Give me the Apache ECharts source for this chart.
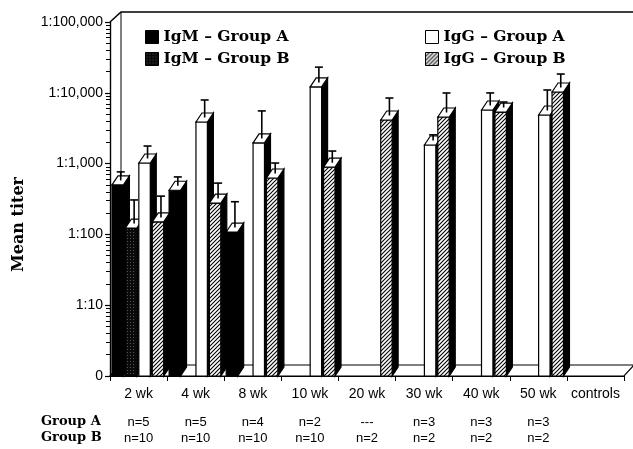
<!DOCTYPE html>
<html>
<head>
<meta charset="utf-8">
<script src="https://cdn.jsdelivr.net/npm/echarts@6/dist/echarts.min.js"></script>
<style>
  html, body { margin: 0; padding: 0; background: #fff; }
  #chart { width: 633px; height: 449px; }
</style>
</head>
<body>
<div id="chart"></div>
<script>
var categories = ['2 wk', '4 wk', '8 wk', '10 wk', '20 wk', '30 wk', '40 wk', '50 wk', 'controls'];
var igmA    = [500, 420, 108, null, null, null, null, null, null];
var igmAErr = [660, 560, 250, null, null, null, null, null, null];
var igmB    = [123, null, null, null, null, null, null, null, null];
var igmBErr = [265, null, null, null, null, null, null, null, null];
var iggA    = [1020, 3870, 1960, 12100, null, 1830, 5720, 4860, null];
var iggAErr = [1530, 6840, 4790, 19900, null, 2200, 8600, 9460, null];
var iggB    = [150, 277, 626, 890, 4130, 4550, 5350, 10260, null];
var iggBErr = [300, 458, 880, 1300, 7290, 8590, 6400, 15900, null];
var nGroupA = ['n=5', 'n=5', 'n=4', 'n=2', '---', 'n=3', 'n=3', 'n=3', ''];
var nGroupB = ['n=10', 'n=10', 'n=10', 'n=10', 'n=2', 'n=2', 'n=2', 'n=2', ''];
var decades = [0, 1, 2, 3, 4];

// minor tick positions (exponents of 2..9 in each decade)
var minorTicks = [];
decades.forEach(function (d) {
    for (var k = 2; k <= 9; k++) minorTicks.push(d + Math.log10(k));
});

var chart = echarts.init(document.getElementById('chart'));

// small tiles for hatched fills
function tile(bg, fg, size, lw, dots) {
    var c = document.createElement('canvas');
    c.width = c.height = size;
    var ctx = c.getContext('2d');
    ctx.fillStyle = bg;
    ctx.fillRect(0, 0, size, size);
    if (dots) {
        ctx.fillStyle = fg;
        ctx.fillRect(1, 1, 1, 1);
    } else {
        ctx.strokeStyle = fg;
        ctx.lineWidth = lw;
        ctx.beginPath();
        ctx.moveTo(0, size); ctx.lineTo(size, 0);
        ctx.moveTo(-1, 1); ctx.lineTo(1, -1);
        ctx.moveTo(size - 1, size + 1); ctx.lineTo(size + 1, size - 1);
        ctx.stroke();
    }
    return { image: c, repeat: 'repeat' };
}
var hatchLight = tile('#fff', '#000', 4, 1.1, false);
var hatchDark = tile('#0a0a0a', '#555', 3, 1, true);

var DX = 6, DY = 9;

function toData(vals, errs) {
    var out = [];
    for (var i = 0; i < vals.length; i++) {
        if (vals[i] != null) out.push([i, vals[i], errs[i]]);
    }
    return out;
}

function barRender(slot, fill) {
    return function (params, api) {
        var idx = api.value(0);
        var base = api.coord([idx, 1]);
        var band = api.coord([1, 1])[0] - api.coord([0, 1])[0];
        var w = band * 0.2;
        var left = base[0] - band / 2 + band * (0.035 + slot * 0.235);
        var right = left + w;
        var yT = api.coord([idx, api.value(1)])[1];
        var yB = base[1];
        var ex = left + w / 2 + DX / 2;
        var ey0 = yT - DY / 2;
        var ey1 = api.coord([idx, api.value(2)])[1] - DY / 2;
        return {
            type: 'group',
            children: [
                { type: 'polygon', shape: { points: [[right, yT], [right + DX, yT - DY], [right + DX, yB - DY], [right, yB]] },
                  style: { fill: '#000', stroke: '#000', lineWidth: 1.2 } },
                { type: 'rect', shape: { x: left, y: yT, width: w, height: yB - yT },
                  style: { fill: fill, stroke: '#000', lineWidth: 1.2 } },
                { type: 'polygon', shape: { points: [[left, yT], [left + DX, yT - DY], [right + DX, yT - DY], [right, yT]] },
                  style: { fill: '#fff', stroke: '#000', lineWidth: 1.2 } },
                { type: 'line', shape: { x1: ex, y1: ey0, x2: ex, y2: ey1 },
                  style: { stroke: '#000', lineWidth: 1.6 } },
                { type: 'line', shape: { x1: ex - 4, y1: ey1, x2: ex + 4, y2: ey1 },
                  style: { stroke: '#000', lineWidth: 1.6 } }
            ]
        };
    };
}

// back wall and floor of the 3D box
function frameRender(params, api) {
    var cs = params.coordSys;
    var x = cs.x, y = cs.y, W = cs.width, yb = cs.y + cs.height;
    return {
        type: 'group',
        children: [
            { type: 'polyline', shape: { points: [[x, y], [x + 11, y - 10], [x + W + 30, y - 10]] },
              style: { stroke: '#000', lineWidth: 1.5, fill: null } },
            { type: 'line', shape: { x1: x + 11, y1: y - 10, x2: x + 11, y2: yb - 10 },
              style: { stroke: '#000', lineWidth: 1 } },
            { type: 'polygon', shape: { points: [[x, yb], [x + W, yb], [x + W + 10, yb - 11], [x + 10, yb - 11]] },
              style: { fill: '#fff', stroke: '#000', lineWidth: 1.2 } }
        ]
    };
}

var legendText = { fontFamily: 'DejaVu Serif', fontWeight: 'bold', fontSize: 15.5, color: '#000' };

var option = {
    animation: false,
    backgroundColor: '#fff',
    grid: { left: 110, right: 9, top: 22, bottom: 73 },
    legend: [
        {
            left: 140, top: 24, orient: 'vertical', itemWidth: 13, itemHeight: 13, itemGap: 6,
            icon: 'rect', textStyle: legendText, selectedMode: false,
            data: [
                { name: 'IgM – Group A', itemStyle: { color: '#000', borderColor: '#000', borderWidth: 1 } },
                { name: 'IgM – Group B', itemStyle: { color: hatchDark, borderColor: '#000', borderWidth: 1 } }
            ]
        },
        {
            left: 420, top: 24, orient: 'vertical', itemWidth: 13, itemHeight: 13, itemGap: 6,
            icon: 'rect', textStyle: legendText, selectedMode: false,
            data: [
                { name: 'IgG – Group A', itemStyle: { color: '#fff', borderColor: '#000', borderWidth: 1 } },
                { name: 'IgG – Group B', itemStyle: { color: hatchLight, borderColor: '#000', borderWidth: 1 } }
            ]
        }
    ],
    xAxis: {
        type: 'category',
        data: categories,
        axisLine: { lineStyle: { color: '#000', width: 1.2 } },
        axisTick: { show: true, length: 5, interval: 0, lineStyle: { color: '#000' } },
        axisLabel: {
            interval: 0, margin: 10, color: '#000',
            formatter: function (v, i) {
                return '{wk|' + v + '}\n{sp| }\n{n|' + (nGroupA[i] || ' ') + '}\n{n|' + (nGroupB[i] || ' ') + '}';
            },
            rich: {
                wk: { fontFamily: 'Liberation Sans', fontSize: 14, lineHeight: 16, color: '#000' },
                sp: { fontSize: 10, lineHeight: 12 },
                n: { fontFamily: 'Liberation Sans', fontSize: 13, lineHeight: 16, color: '#000' }
            }
        },
        splitLine: { show: false }
    },
    yAxis: [
        {
            type: 'log',
            logBase: 10,
            min: 1,
            max: 100000,
            axisLine: { show: true, lineStyle: { color: '#000', width: 1.2 } },
            axisTick: { show: true, length: 5, lineStyle: { color: '#000', width: 1.2 } },
            splitLine: { show: false },
            axisLabel: {
                color: '#000', fontFamily: 'Liberation Sans', fontSize: 14, margin: 7,
                formatter: function (v) {
                    return v === 1 ? '0' : '1:' + Number(v).toLocaleString('en-US');
                }
            }
        },
        {
            // log-spaced minor ticks only
            type: 'value',
            min: 0,
            max: 5,
            interval: 1,
            position: 'left',
            axisLine: { show: true, lineStyle: { color: '#000', width: 1.2 } },
            axisLabel: { show: true, color: 'rgba(0,0,0,0)' },
            splitLine: { show: false },
            axisTick: { show: true, length: 4, customValues: minorTicks, lineStyle: { color: '#000' } }
        }
    ],
    graphic: [
        { type: 'text', left: 11, top: 177, rotation: Math.PI / 2,
          style: { text: 'Mean titer', fontFamily: 'DejaVu Serif', fontWeight: 'bold', fontSize: 16, fill: '#000' } },
        { type: 'text', left: 41, top: 415,
          style: { text: 'Group A', fontFamily: 'DejaVu Serif', fontWeight: 'bold', fontSize: 13, fill: '#000' } },
        { type: 'text', left: 41, top: 431,
          style: { text: 'Group B', fontFamily: 'DejaVu Serif', fontWeight: 'bold', fontSize: 13, fill: '#000' } }
    ],
    series: [
        { type: 'custom', name: 'frame', silent: true, z: 1, clip: false, renderItem: frameRender, data: [[0, 1]] },
        { type: 'custom', name: 'IgM – Group A', z: 2, clip: false, itemStyle: { color: '#000' },
          renderItem: barRender(0, '#000'), data: toData(igmA, igmAErr) },
        { type: 'custom', name: 'IgM – Group B', z: 2, clip: false, itemStyle: { color: hatchDark },
          renderItem: barRender(1, hatchDark), data: toData(igmB, igmBErr) },
        { type: 'custom', name: 'IgG – Group A', z: 2, clip: false, itemStyle: { color: '#fff' },
          renderItem: barRender(2, '#fff'), data: toData(iggA, iggAErr) },
        { type: 'custom', name: 'IgG – Group B', z: 2, clip: false, itemStyle: { color: hatchLight },
          renderItem: barRender(3, hatchLight), data: toData(iggB, iggBErr) }
    ]
};

chart.setOption(option);
</script>
</body>
</html>
